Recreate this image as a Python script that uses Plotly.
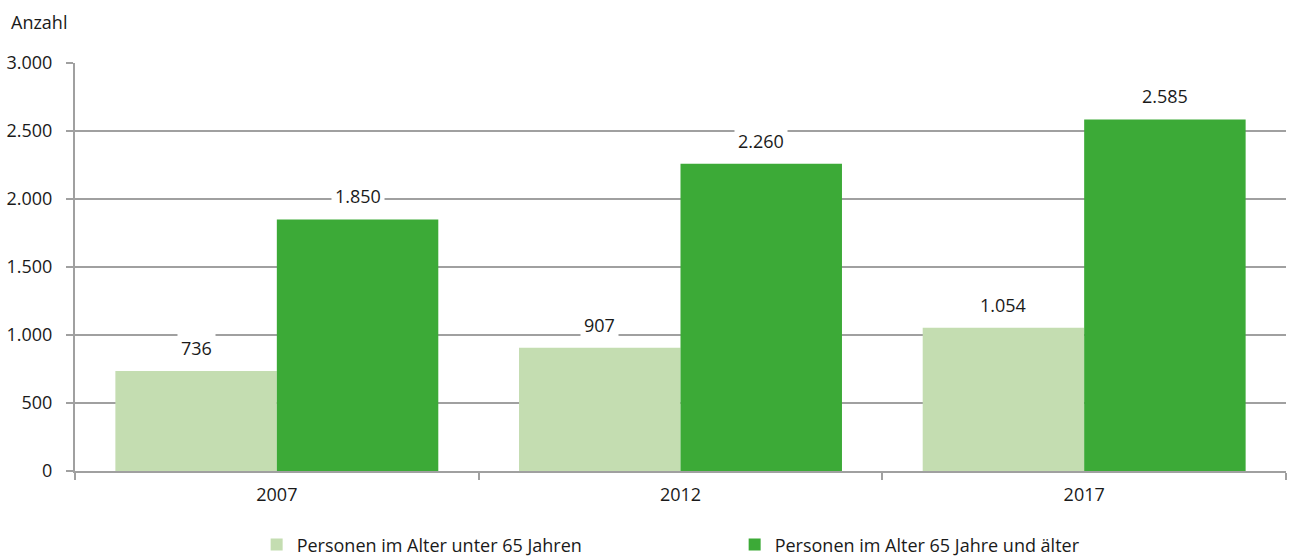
import plotly.graph_objects as go

years = ["2007", "2012", "2017"]
under65 = [736, 907, 1054]
over65 = [1850, 2260, 2585]
series_names = ["Personen im Alter unter 65 Jahren", "Personen im Alter 65 Jahre und älter"]
y_ticks = [0, 500, 1000, 1500, 2000, 2500, 3000]

light = "#c4ddb1"
dark = "#3caa37"
grid = "#a0a0a0"
font = dict(family="Open Sans", size=18, color="#1a1a1a")

def de(v):
    return f"{v:,}".replace(",", ".")

fig = go.Figure()
fig.add_trace(go.Bar(x=years, y=under65, name=series_names[0], marker=dict(color=light, line=dict(width=0))))
fig.add_trace(go.Bar(x=years, y=over65, name=series_names[1], marker=dict(color=dark, line=dict(width=0))))

anns = []
for i, (a, b) in enumerate(zip(under65, over65)):
    for off, v in ((-0.2, a), (0.2, b)):
        anns.append(dict(x=i + off, y=v, xref="x", yref="y", text=de(v), showarrow=False,
                         yanchor="middle", yshift=23, bgcolor="white", borderpad=3,
                         font=font))
anns.append(dict(x=0, y=1, xref="paper", yref="paper", xanchor="left", yanchor="middle",
                 xshift=-66, yshift=41, text="Anzahl", showarrow=False, font=font))

fig.update_layout(
    width=1289, height=556,
    margin=dict(l=75, r=3, t=63, b=85, autoexpand=False),
    paper_bgcolor="white", plot_bgcolor="white",
    separators=",.",
    font=font,
    barmode="group", bargap=0.2, bargroupgap=0,
    annotations=anns,
    showlegend=True,
    legend=dict(orientation="h", x=0.150, xanchor="left", y=-0.181, yanchor="middle",
                entrywidth=433, entrywidthmode="pixels", itemwidth=30, font=font,
                traceorder="normal"),
)
fig.update_xaxes(type="category", showline=True, linecolor=grid, linewidth=2,
                 ticks="outside", tickson="boundaries", ticklen=7, tickcolor=grid, tickwidth=1.5,
                 showgrid=False, tickfont=font, ticklabelstandoff=6)
fig.update_yaxes(range=[0, 3000], tickvals=y_ticks, tickformat=",d", showline=True,
                 linecolor=grid, linewidth=2, ticks="outside", ticklen=7, tickcolor=grid,
                 tickwidth=1.5, showgrid=True, gridcolor=grid, gridwidth=1.5,
                 zeroline=False, tickfont=font, ticklabelstandoff=10)

fig.write_html("out.html", config={"displayModeBar": False},
               post_script="document.body.style.margin='0';document.body.style.overflow='hidden';")
